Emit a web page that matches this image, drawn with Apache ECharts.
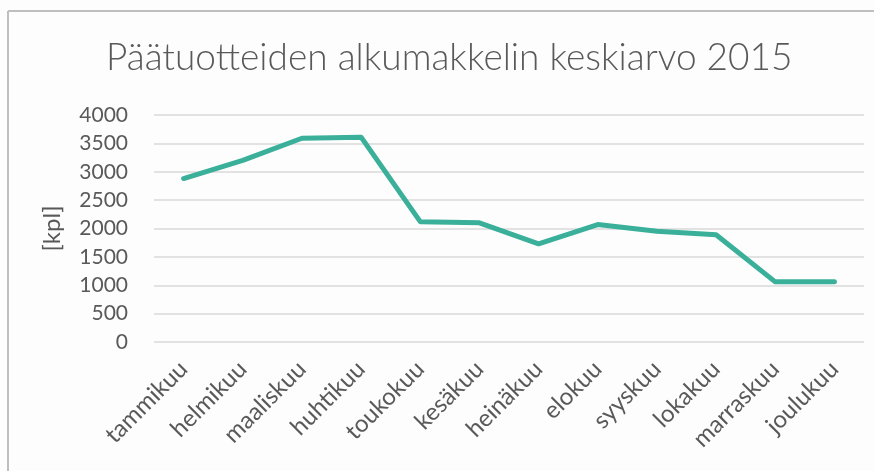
<!DOCTYPE html>
<html>
<head>
<meta charset="utf-8">
<script src="https://cdn.jsdelivr.net/npm/echarts@6/dist/echarts.min.js"></script>
<style>
html,body{margin:0;padding:0;background:#fdfdfd;}
#c{width:874px;height:471px;}
</style>
</head>
<body>
<div id="c"></div>
<script>
const titleText = 'Päätuotteiden alkumakkelin keskiarvo 2015';
const yAxisName = '[kpl]';
const months = ['tammikuu','helmikuu','maaliskuu','huhtikuu','toukokuu','kesäkuu','heinäkuu','elokuu','syyskuu','lokakuu','marraskuu','joulukuu'];
const values = [2880, 3200, 3590, 3610, 2120, 2100, 1730, 2070, 1950, 1890, 1060, 1060];

const chart = echarts.init(document.getElementById('c'));
const txt = '#595959';
chart.setOption({
  backgroundColor: '#fdfdfd',
  animation: false,
  title: {
    text: titleText,
    left: 101,
    top: 35,
    textStyle: {fontFamily: 'Lato', fontWeight: 300, fontSize: 37, color: txt}
  },
  graphic: [
    {type: 'line', shape: {x1: 8, y1: 11, x2: 874, y2: 11}, style: {stroke: '#bfbfbf', lineWidth: 2}},
    {type: 'line', shape: {x1: 8, y1: 11, x2: 8, y2: 471}, style: {stroke: '#bfbfbf', lineWidth: 2}}
  ],
  grid: {left: 154, right: 10, top: 115, bottom: 129},
  xAxis: {
    type: 'category',
    data: months,
    boundaryGap: true,
    axisLine: {show: false},
    axisTick: {show: false},
    axisLabel: {rotate: 45, color: txt, fontFamily: 'Lato', fontSize: 24, margin: 23, interval: 0}
  },
  yAxis: {
    type: 'value',
    min: 0, max: 4000, interval: 500,
    name: yAxisName,
    nameLocation: 'middle',
    nameRotate: 90,
    nameGap: 90,
    nameTextStyle: {color: txt, fontFamily: 'Lato', fontSize: 24},
    axisLine: {show: false},
    axisTick: {show: false},
    axisLabel: {color: txt, fontFamily: 'Lato', fontSize: 21, margin: 26, formatter: function (v) { return String(v); }},
    splitLine: {lineStyle: {color: '#d9d9d9', width: 1.5}}
  },
  series: [{
    type: 'line',
    data: values,
    symbol: 'none',
    lineStyle: {color: '#3ab09a', width: 5, cap: 'round', join: 'round'}
  }]
});
</script>
</body>
</html>
